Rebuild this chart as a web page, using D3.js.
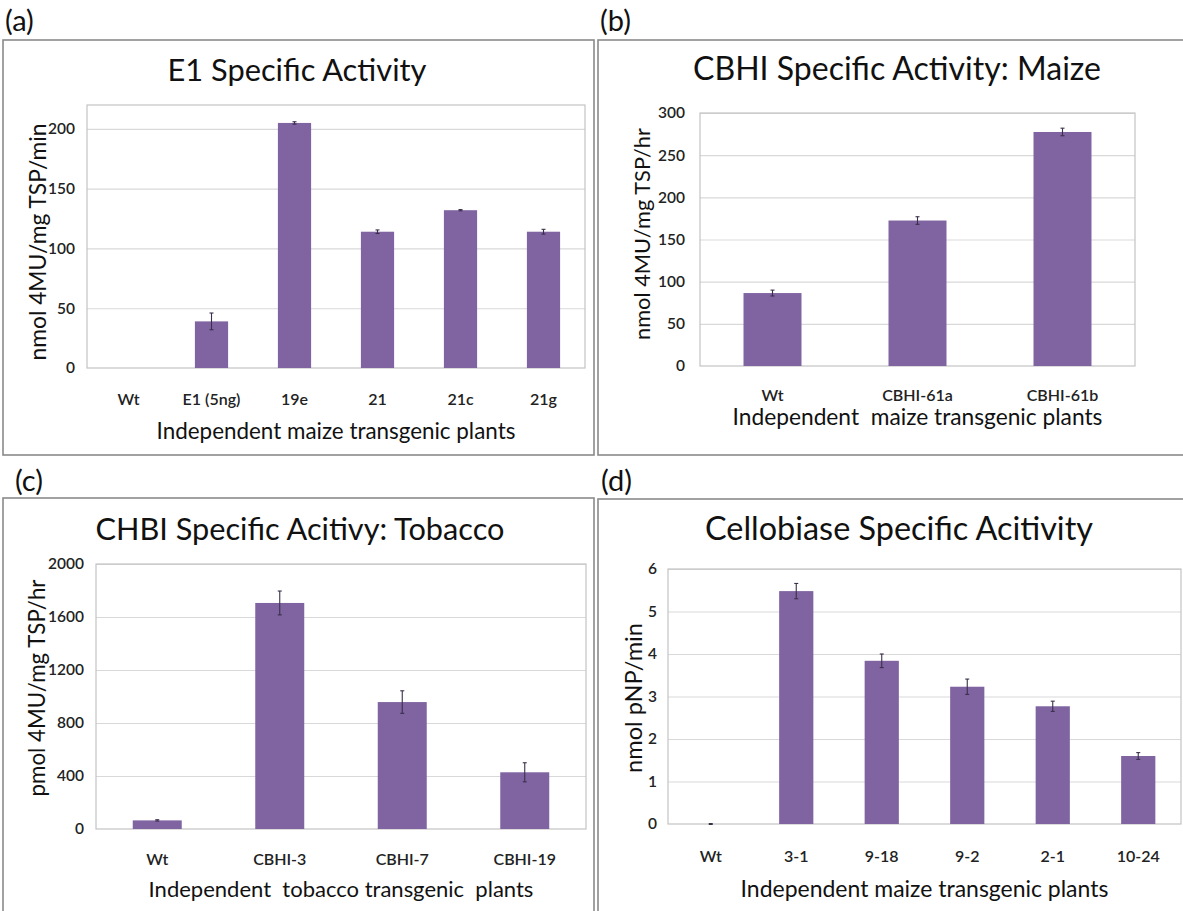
<!DOCTYPE html>
<html>
<head>
<meta charset="utf-8">
<script src="https://cdn.jsdelivr.net/npm/d3@7"></script>
<style>
  html, body { margin: 0; padding: 0; background: #fff; }
  svg { display: block; font-family: Lato, "Open Sans", sans-serif; }
</style>
</head>
<body>
<svg id="chart" width="1183" height="911"></svg>
<script>
// ---------- Data ----------
const aCategories = ["Wt", "E1 (5ng)", "19e", "21", "21c", "21g"];
const aValues = [0, 39, 205, 114, 132, 114];
const aErrors = [0, 7, 1, 1.5, 0.5, 2];
const aTicks = [0, 50, 100, 150, 200];

const bCategories = ["Wt", "CBHI-61a", "CBHI-61b"];
const bValues = [86.5, 172.5, 277.5];
const bErrors = [3.5, 4.5, 4.5];
const bTicks = [0, 50, 100, 150, 200, 250, 300];

const cCategories = ["Wt", "CBHI-3", "CBHI-7", "CBHI-19"];
const cValues = [65, 1706, 958, 428];
const cErrors = [5, 90, 85, 72];
const cTicks = [0, 400, 800, 1200, 1600, 2000];

const dCategories = ["Wt", "3-1", "9-18", "9-2", "2-1", "10-24"];
const dValues = [0, 5.48, 3.84, 3.23, 2.77, 1.6];
const dErrors = [0.01, 0.18, 0.16, 0.18, 0.12, 0.08];
const dTicks = [0, 1, 2, 3, 4, 5, 6];

const titles = ["E1 Specific Activity", "CBHI Specific Activity: Maize",
                "CHBI Specific Acitivy: Tobacco", "Cellobiase Specific Acitivity"];
const yTitles = ["nmol 4MU/mg TSP/min", "nmol 4MU/mg TSP/hr",
                 "pmol 4MU/mg TSP/hr", "nmol pNP/min"];
const xTitles = ["Independent maize transgenic plants",
                 "Independent\u00a0 maize transgenic plants",
                 "Independent\u00a0 tobacco transgenic\u00a0 plants",
                 "Independent maize transgenic plants"];
const panelLabels = ["(a)", "(b)", "(c)", "(d)"];

// ---------- Layout ----------
const panels = [
  { label: panelLabels[0], labelPos: [5, 31], box: [3, 40, 594, 455],
    plot: { l: 87, r: 585, t: 105, b: 368 }, yMax: 220,
    cats: aCategories, vals: aValues, errs: aErrors, ticks: aTicks,
    title: titles[0], titlePos: [297, 81], titleW: 259,
    yTitle: yTitles[0], yTitlePos: [46, 242], yTitleW: 237,
    xTickY: 405, xTitle: xTitles[0], xTitleY: 439, xTitleW: 359, yLabelGap: 12 },
  { label: panelLabels[1], labelPos: [600, 31], box: [598, 40, 1186, 455],
    plot: { l: 700, r: 1135, t: 113, b: 366 }, yMax: 300,
    cats: bCategories, vals: bValues, errs: bErrors, ticks: bTicks,
    title: titles[1], titlePos: [897, 80], titleW: 408,
    yTitle: yTitles[1], yTitlePos: [650, 234], yTitleW: 212,
    xTickY: 401, xTitle: xTitles[1], xTitleY: 425, xTitleW: 370, yLabelGap: 15 },
  { label: panelLabels[2], labelPos: [15, 491], box: [3, 498, 594, 914],
    plot: { l: 96, r: 586, t: 564, b: 829 }, yMax: 2000,
    cats: cCategories, vals: cValues, errs: cErrors, ticks: cTicks,
    title: titles[2], titlePos: [300, 540], titleW: 409,
    yTitle: yTitles[2], yTitlePos: [45, 688], yTitleW: 217,
    xTickY: 865, xTitle: xTitles[2], xTitleY: 897, xTitleW: 385, yLabelGap: 12 },
  { label: panelLabels[3], labelPos: [601, 491], box: [598, 499, 1186, 914],
    plot: { l: 668, r: 1181, t: 569, b: 824 }, yMax: 6,
    cats: dCategories, vals: dValues, errs: dErrors, ticks: dTicks,
    title: titles[3], titlePos: [899, 540], titleW: 388,
    yTitle: yTitles[3], yTitlePos: [642, 698], yTitleW: 150,
    xTickY: 862, xTitle: xTitles[3], xTitleY: 897, xTitleW: 368, yLabelGap: 11 }
];

const svg = d3.select("#chart");
const BAR = "#8064a2";

function fit(sel, target) {
  const len = sel.node().getComputedTextLength();
  const fs = parseFloat(sel.attr("font-size"));
  sel.attr("font-size", (fs * target / len).toFixed(2));
}

panels.forEach(p => {
  const g = svg.append("g");
  // panel border
  g.append("rect")
    .attr("x", p.box[0]).attr("y", p.box[1])
    .attr("width", p.box[2] - p.box[0]).attr("height", p.box[3] - p.box[1])
    .attr("fill", "none").attr("stroke", "#8a8a8a").attr("stroke-width", 1.6);

  // panel label
  svg.append("text").attr("x", p.labelPos[0]).attr("y", p.labelPos[1])
    .attr("font-size", 29).attr("fill", "#111").text(p.label);

  const x = d3.scaleBand().domain(p.cats).range([p.plot.l, p.plot.r])
    .paddingInner(0.6).paddingOuter(0.3);
  const y = d3.scaleLinear().domain([0, p.yMax]).range([p.plot.b, p.plot.t]);

  // gridlines
  g.append("g").attr("transform", `translate(${p.plot.l},0)`)
    .call(d3.axisLeft(y).tickValues(p.ticks.slice(1)).tickSize(-(p.plot.r - p.plot.l)).tickFormat(""))
    .call(s => s.select(".domain").remove())
    .call(s => s.selectAll("line").attr("stroke", "#d9d9d9").attr("stroke-width", 1.2));

  // plot border
  g.append("rect").attr("x", p.plot.l).attr("y", p.plot.t)
    .attr("width", p.plot.r - p.plot.l).attr("height", p.plot.b - p.plot.t)
    .attr("fill", "none").attr("stroke", "#c4c4c4").attr("stroke-width", 1.2);

  // bars
  g.selectAll("rect.bar").data(p.cats).enter().append("rect").attr("class", "bar")
    .attr("x", d => x(d)).attr("width", x.bandwidth())
    .attr("y", (d, i) => y(p.vals[i]))
    .attr("height", (d, i) => y(0) - y(p.vals[i]))
    .attr("fill", BAR);

  // error bars
  const eb = g.selectAll("g.err").data(p.cats.map((c, i) => ({ c, v: p.vals[i], e: p.errs[i] })).filter(d => d.e > 0))
    .enter().append("g").attr("class", "err")
    .attr("stroke", "#3a2f4a").attr("stroke-width", 1.1);
  eb.append("line").attr("x1", d => x(d.c) + x.bandwidth() / 2).attr("x2", d => x(d.c) + x.bandwidth() / 2)
    .attr("y1", d => y(d.v - d.e)).attr("y2", d => y(d.v + d.e));
  eb.append("line").attr("x1", d => x(d.c) + x.bandwidth() / 2 - 2).attr("x2", d => x(d.c) + x.bandwidth() / 2 + 2)
    .attr("y1", d => y(d.v + d.e)).attr("y2", d => y(d.v + d.e));
  eb.append("line").attr("x1", d => x(d.c) + x.bandwidth() / 2 - 2).attr("x2", d => x(d.c) + x.bandwidth() / 2 + 2)
    .attr("y1", d => y(d.v - d.e)).attr("y2", d => y(d.v - d.e));

  // y axis labels
  g.append("g").attr("transform", `translate(${p.plot.l},0)`)
    .call(d3.axisLeft(y).tickValues(p.ticks).tickSize(0).tickPadding(p.yLabelGap).tickFormat(d3.format("d")))
    .call(s => s.select(".domain").remove())
    .call(s => s.selectAll("text").attr("font-family", "Lato, sans-serif").attr("font-size", 15.5)
      .attr("fill", "#222").attr("font-weight", 600));

  // x axis labels
  g.append("g").attr("transform", `translate(0,${p.xTickY})`)
    .call(d3.axisBottom(x).tickSize(0))
    .call(s => s.select(".domain").remove())
    .call(s => s.selectAll("text").attr("y", 0).attr("dy", 0)
      .attr("font-family", "Lato, sans-serif").attr("font-size", 16)
      .attr("fill", "#222").attr("font-weight", 600));

  // chart title
  const t = svg.append("text").attr("x", p.titlePos[0]).attr("y", p.titlePos[1])
    .attr("text-anchor", "middle").attr("font-size", 30).attr("fill", "#111").text(p.title);
  fit(t, p.titleW);

  // y title
  const yt = svg.append("text")
    .attr("transform", `translate(${p.yTitlePos[0]},${p.yTitlePos[1]}) rotate(-90)`)
    .attr("text-anchor", "middle").attr("font-size", 22).attr("fill", "#111").text(p.yTitle);
  fit(yt, p.yTitleW);

  // x title
  const xt = svg.append("text").attr("x", (p.plot.l + p.plot.r) / 2).attr("y", p.xTitleY)
    .attr("text-anchor", "middle").attr("font-size", 22).attr("fill", "#111").text(p.xTitle);
  fit(xt, p.xTitleW);
});
</script>
</body>
</html>
